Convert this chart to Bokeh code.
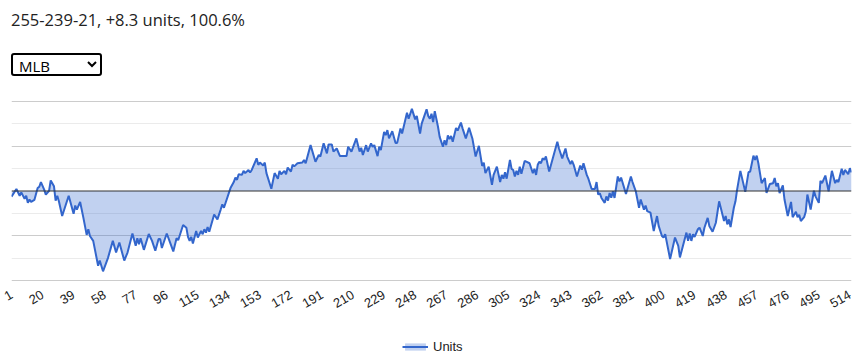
from bokeh.plotting import figure
from bokeh.models import (Div, Select, ColumnDataSource, FixedTicker, Span, Legend,
                          LegendItem, Range1d, InlineStyleSheet)
from bokeh.layouts import column
from bokeh.embed import file_html
from bokeh.resources import INLINE

header_text = "255-239-21, +8.3 units, 100.6%"
league_options = ["MLB"]
series_name = "Units"

games = [1, 4, 6, 7, 9, 10, 11, 12, 13, 15, 17, 18, 19, 21, 22, 24, 25, 27, 28, 29, 30, 32, 36, 39, 40, 41,
         43, 45, 47, 48, 49, 51, 54, 55, 57, 60, 63, 65, 67, 70, 72, 75, 77, 78, 79, 80, 82, 85,
         87, 89, 91, 92, 93, 96, 98, 100, 102, 103, 106, 108, 109, 110, 111, 112, 114, 115, 117, 118,
         119, 120, 121, 122, 125, 127, 129, 130, 131, 135, 137, 138, 139, 140, 142, 143, 144, 146, 147,
         148, 151, 152, 153, 155, 156, 157, 160, 162, 164, 165, 166, 168, 169, 170, 172, 173, 174, 176,
         179, 180, 181, 184, 187, 189, 190, 192, 194, 195, 197, 198, 200, 202, 206, 207, 209, 212, 214,
         215, 216, 218, 219, 221, 222, 223, 225, 226, 227, 229, 230, 231, 232, 234, 236, 237, 239, 240,
         243, 244, 246, 248, 249, 251, 252, 255, 256, 257, 258, 259, 260, 262, 263, 265, 266, 267, 268,
         269, 270, 271, 273, 274, 276, 277, 279, 281, 283, 285, 287, 289, 290, 291, 293, 295, 296, 298,
         300, 301, 302, 303, 304, 306, 307, 308, 309, 310, 311, 312, 313, 315, 316, 318, 320, 321, 322,
         323, 324, 325, 326, 327, 328, 330, 335, 336, 338, 340, 341, 343, 344, 345, 347, 349, 350, 351,
         353, 354, 356, 358, 359, 360, 361, 362, 364, 365, 366, 367, 368, 369, 370, 372, 373, 374, 377,
         380, 381, 383, 385, 386, 388, 389, 390, 392, 394, 396, 397, 399, 400, 401, 404, 407, 409, 410,
         414, 415, 416, 417, 418, 419, 421, 422, 424, 425, 427, 428, 430, 432, 434, 435, 437, 438, 439,
         440, 441, 443, 444, 445, 447, 450, 452, 453, 455, 456, 457, 458, 460, 462, 463, 465, 467, 468,
         469, 470, 471, 473, 474, 476, 478, 479, 481, 482, 483, 484, 486, 487, 488, 490, 492, 493, 495,
         496, 497, 499, 501, 503, 505, 506, 507, 509, 510, 511, 513, 514, 515]

units = [-2.5, 0.9, -2.1, -0.6, -3.5, -2.1, -5.3, -3.8, -4.9, -4.0, 1.3, 1.9, 4.0, 0.6, -1.6, 0.1, 4.7, 2.1,
         -4.3, -2.1, -4.6, -11.2, -2.1, -10.2, -6.5, -8.3,
         -4.9, -12.0, -19.6, -17.1, -20.1, -22.3, -33.4, -31.1, -35.9, -30.0, -22.3, -27.5, -23.0, -31.1,
         -27.5, -19.0, -24.5, -21.1, -23.8, -21.1, -26.3, -19.2,
         -22.3, -26.7, -21.5, -21.5, -25.5, -19.0, -23.0, -27.0, -21.1, -22.0, -15.2, -16.4, -20.5, -22.3,
         -20.5, -23.5, -17.9, -20.8, -17.9, -19.3,
         -17.1, -18.6, -16.1, -18.2, -10.5, -12.7, -8.3, -6.0, -7.5, 1.3, 4.0, 6.0, 5.0, 7.5, 7.2, 9.0, 8.0,
         9.4, 8.3,
         9.4, 14.6, 11.7, 12.7, 11.4, 12.7, 8.0, 1.0, 8.0, 5.5, 9.0, 7.5, 9.0, 7.5, 10.5, 8.7, 11.7, 11.0, 12.4,
         12.7, 13.9, 12.4, 20.5, 13.1, 16.1, 15.4, 21.3, 16.8, 20.8, 20.8, 17.6, 19.0, 15.6, 15.6, 19.8, 17.6,
         23.5, 17.6,
         19.3, 16.1, 20.5, 17.6, 21.3, 19.8, 20.5, 15.6, 19.8, 18.3, 26.4, 25.0, 27.2, 23.5, 26.7, 21.5, 21.5,
         27.9, 25.7,
         35.0, 32.3, 36.7, 32.0, 33.5, 25.7, 30.1, 36.5, 33.5, 32.3, 34.5, 30.8, 35.7, 28.6, 24.2, 19.8, 22.7,
         20.5, 24.9,
         23.2, 24.6, 22.0, 28.2, 27.0, 30.6, 28.0, 23.5, 28.2, 23.5, 15.4, 20.2, 11.2, 12.7, 8.0, 10.9, 2.8,
         7.2, 10.9,
         4.0, 7.2, 5.5, 8.4, 5.5, 13.9, 9.9, 9.4, 6.5, 9.0, 7.2, 10.9, 7.7, 13.4, 13.1, 12.4, 8.0, 9.9, 7.2,
         11.7, 13.1, 12.4, 14.6, 13.9, 15.4, 8.7, 22.0, 19.0, 14.6, 19.0, 15.4, 12.0, 13.5, 11.7, 6.5, 11.4,
         9.5, 12.4,
         7.2, 5.5, 0.9, 0.9, 4.0, -1.6, -1.0, -3.1, -5.3, -2.4, -4.3, -0.9, -3.0, -0.1, -3.1, 6.5, 4.3, 6.0,
         -1.3,
         6.5, 4.0, -0.1, -7.5, -3.8, -8.3, -6.5, -9.0, -9.7, -17.9, -11.2, -15.6, -20.1, -20.8, -19.3, -30.4,
         -20.8, -24.5, -29.7,
         -18.6, -22.3, -19.0, -22.3, -19.3, -20.5, -17.1, -16.4, -20.1, -16.4, -12.0, -15.6, -18.2, -14.2,
         -4.6, -7.5, -13.4, -11.2, -14.9,
         -12.7, -16.1, -7.5, -4.6, 0.6, 9.0, -0.4, 8.4, 8.7, 15.8, 13.9, 15.8, 12.4, 3.5, 5.8, -0.9, 3.1, 3.5,
         5.8,
         2.1, 3.5, -0.9, 2.5, -3.8, -11.2, -4.9, -11.7, -9.3, -11.7, -10.6, -13.4, -11.7, -9.3, -1.6, -8.3,
         0.1, -2.4, -5.3,
         4.6, 3.5, 6.9, -0.1, 9.0, 3.5, 5.0, 4.0, 9.9, 7.2, 9.4, 7.5, 10.2, 8.3]

baseline = [0.0] * len(games)

tick_values = [1, 20, 39, 58, 77, 96, 115, 134, 153, 172, 191, 210, 229, 248, 267, 286, 305, 324,
               343, 362, 381, 400, 419, 438, 457, 476, 495, 514]
tick_labels = ["1", "20", "39", "58", "77", "96", "115", "134", "153", "172", "191", "210", "229",
               "248", "267", "286", "305", "324", "343", "362", "381", "400", "419", "438", "457",
               "476", "495", "514"]
y_major = [-40, -20, 20, 40]
y_minor = [-30, -10, 10, 30]

assert len(games) == len(units)

src = ColumnDataSource(dict(game=games, units=units, base=baseline))

AREA_COLOR = "#3366cc"

p = figure(frame_width=840, frame_height=181, x_range=Range1d(1, 515), y_range=Range1d(-40.45, 40.45),
           output_backend="svg", toolbar_location=None,
           min_border_left=11, min_border_right=10, min_border_top=24, min_border_bottom=45)
p.outline_line_color = None
p.background_fill_color = "white"
p.border_fill_color = "white"

area = p.varea(x="game", y1="base", y2="units", source=src, fill_color=AREA_COLOR, fill_alpha=0.3)
line = p.line(x="game", y="units", source=src, line_color=AREA_COLOR, line_width=2)

p.yaxis.visible = False
p.ygrid.ticker = FixedTicker(ticks=y_major, minor_ticks=y_minor)
p.ygrid.grid_line_color = "#cccccc"
p.ygrid.grid_line_width = 1
p.ygrid.minor_grid_line_color = "#ebebeb"
p.ygrid.minor_grid_line_width = 1
p.xgrid.visible = False

p.add_layout(Span(location=0, dimension="width", line_color="#333333", line_width=1))

xa = p.xaxis[0]
xa.ticker = FixedTicker(ticks=tick_values)
xa.major_label_overrides = {v: s for v, s in zip(tick_values, tick_labels)}
xa.major_label_orientation = 0.5236
xa.axis_line_color = None
xa.major_tick_line_color = None
xa.minor_tick_line_color = None
xa.major_tick_out = 0
xa.major_tick_in = 0
xa.major_label_standoff = 12
xa.major_label_text_font = "Liberation Sans"
xa.major_label_text_font_size = "13px"
xa.major_label_text_color = "#222222"

# legend strip below the chart (its own small figure so the legend is never clipped);
# it shares the series source, but its ranges show none of the data itself
lg = figure(width=861, height=28, x_range=Range1d(-2000, -1000), y_range=Range1d(-2000, -1000),
            output_backend="svg", toolbar_location=None,
            min_border_left=0, min_border_right=0, min_border_top=0, min_border_bottom=0)
lg.axis.visible = False
lg.grid.visible = False
lg.outline_line_color = None
lg.border_fill_color = "white"
lg_area = lg.varea(x="game", y1="base", y2="units", source=src, fill_color=AREA_COLOR, fill_alpha=0.3)
lg_line = lg.line(x="game", y="units", source=src, line_color=AREA_COLOR, line_width=2)
legend = Legend(items=[LegendItem(label=series_name, renderers=[lg_area, lg_line])],
                location=(391, 0), orientation="horizontal",
                border_line_color=None, background_fill_alpha=0,
                label_text_font="Liberation Sans", label_text_font_size="13px",
                label_text_color="#222222", glyph_width=26, glyph_height=9,
                padding=0, margin=0, label_standoff=5)
lg.add_layout(legend)

header = Div(text=header_text, width=861, height=53, margin=(0, 0, 0, 0),
             styles={"font-family": "'Open Sans'", "font-size": "16.5px", "color": "#222222",
                     "padding-left": "11px", "padding-top": "9px", "line-height": "22px"})

sel_css = InlineStyleSheet(css="""
select, .bk-input {
  min-height: 0 !important; height: 23px !important; width: 91px !important;
  border: 2px solid #000000 !important; border-radius: 3px !important;
  padding: 0 0 0 2px !important; font-family: 'Open Sans' !important; font-size: 15px !important;
  color: #000000 !important; background-color: #ffffff !important;
  appearance: auto !important; -webkit-appearance: menulist !important; background-image: none !important;
}
""")
selector = Select(options=league_options, value=league_options[0], width=91, height=23,
                  margin=(0, 0, 0, 11), stylesheets=[sel_css])

layout = column(header, selector, p, lg, margin=0, spacing=0)

open("out.html", "w").write(file_html(layout, INLINE))
